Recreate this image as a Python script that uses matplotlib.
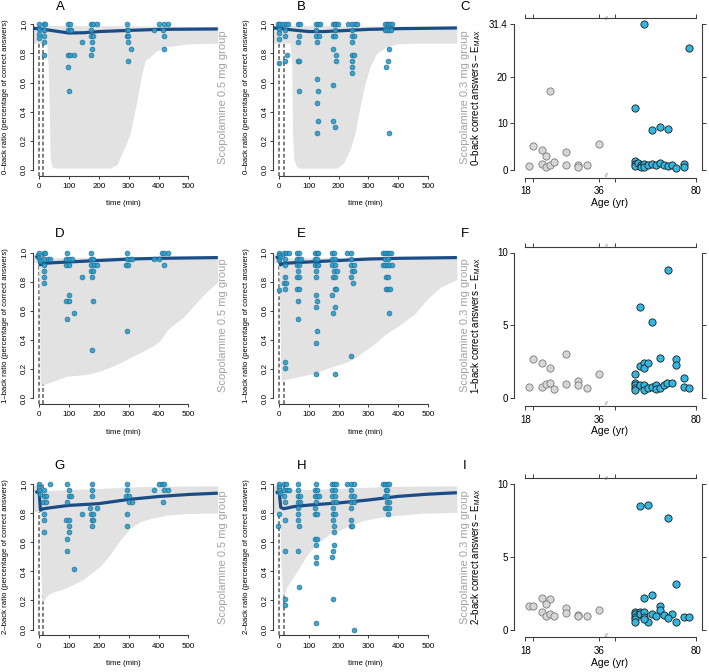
import numpy as np
import matplotlib
matplotlib.use('Agg')
import matplotlib.pyplot as plt

plt.rcParams['font.family'] = ['Liberation Sans', 'DejaVu Sans']
plt.rcParams['mathtext.fontset'] = 'custom'
plt.rcParams['mathtext.rm'] = 'Liberation Sans'

# ---------------- data: observed points (time in min, ratio correct) ----------------
a_t = [0, 0, 0, 0, 17, 20, 18, 17, 18, 18, 17,
       98, 104, 97, 104, 108, 97, 104, 97, 101, 117, 144,
       173, 180, 193, 175, 173, 180, 177, 176, 175,
       295, 293, 297, 293, 298, 297, 308, 298,
       386, 400, 417, 432, 415, 417, 417]
a_v = [1.0, 0.97, 0.93, 0.905, 1.0, 1.0, 0.958, 0.958, 0.917, 0.875, 0.792,
       1.0, 1.0, 0.958, 0.958, 0.958, 0.792, 0.792, 0.708, 0.542, 0.792, 0.875,
       1.0, 1.0, 1.0, 0.958, 0.917, 0.917, 0.875, 0.833, 0.792,
       1.0, 0.958, 0.958, 0.917, 0.917, 0.875, 0.833, 0.75,
       0.958, 1.0, 1.0, 1.0, 0.958, 0.917, 0.833]

b_t = [0, -3, 3, 0, 0, 0, 0,
       14, 22, 30, 18, 19, 25, 19,
       62, 70, 68, 62, 62, 68, 65,
       124, 130, 136, 124, 124, 133, 128, 128, 130, 126, 131, 126,
       181, 186, 192, 197, 186, 181, 188, 181, 190, 192, 181, 181, 188,
       232, 245, 255, 261, 245, 245, 250, 245, 245, 252, 245, 246, 245,
       357, 362, 367, 372, 378, 357, 363, 370, 377, 368, 366, 361, 371]
b_v = [1.0, 1.0, 1.0, 0.97, 0.94, 0.9, 0.735,
       1.0, 1.0, 1.0, 0.958, 0.917, 0.792, 0.75,
       1.0, 1.0, 0.917, 0.875, 0.75, 0.75, 0.542,
       1.0, 1.0, 1.0, 0.958, 0.917, 0.917, 0.875, 0.625, 0.542, 0.458, 0.333, 0.25,
       1.0, 1.0, 1.0, 1.0, 0.958, 0.917, 0.917, 0.833, 0.792, 0.75, 0.583, 0.333, 0.292,
       1.0, 1.0, 1.0, 1.0, 0.958, 0.917, 0.917, 0.875, 0.792, 0.792, 0.75, 0.708, 0.667,
       1.0, 1.0, 1.0, 1.0, 1.0, 0.958, 0.958, 0.958, 0.958, 0.833, 0.75, 0.708, 0.25]

d_t = [-3, 0, 0, 2,
       16, 19, 18, 18, 17, 18, 17, 29, 38,
       93, 91, 99, 110, 91, 99, 99, 91, 99, 93, 118, 145,
       174, 174, 181, 174, 183, 174, 181, 177, 181, 177, 194,
       294, 294, 305, 311, 292, 299, 296,
       386, 400, 411, 417, 431, 417]
d_v = [0.98, 1.0, 0.96, 0.94,
       1.0, 1.0, 0.958, 0.917, 0.875, 0.833, 0.792, 0.958, 0.958,
       1.0, 0.958, 0.958, 0.958, 0.917, 0.917, 0.708, 0.667, 0.667, 0.542, 0.583, 0.833,
       1.0, 0.958, 0.958, 0.917, 0.917, 0.875, 0.875, 0.833, 0.667, 0.333, 0.917,
       1.0, 0.958, 0.958, 0.958, 0.917, 0.917, 0.458,
       0.958, 0.958, 1.0, 1.0, 1.0, 0.917]

e_t = [0, -2, 2, 0, 0,
       17, 24, 32, 19, 19, 19, 17, 24, 19, 19, 19,
       61, 68, 61, 68, 74, 61, 68, 63, 61, 68, 61, 66, 63, 63,
       121, 126, 131, 121, 128, 121, 126, 131, 123, 123, 123, 126, 123, 126, 123, 123,
       177, 183, 179, 186, 179, 186, 183, 193, 181, 188, 186, 190, 179, 186, 181, 186,
       227, 243, 243, 243, 250, 245, 252, 243, 248, 243,
       350, 356, 362, 368, 375, 356, 365, 350, 356, 362, 370, 378, 360, 365, 358, 365, 372, 368]
e_v = [1.0, 0.98, 0.97, 0.95, 0.74,
       1.0, 1.0, 1.0, 0.958, 0.917, 0.833, 0.792, 0.792, 0.75, 0.25, 0.208,
       1.0, 1.0, 0.958, 0.958, 0.958, 0.917, 0.917, 0.875, 0.833, 0.833, 0.75, 0.75, 0.667, 0.542,
       1.0, 1.0, 1.0, 0.958, 0.958, 0.917, 0.917, 0.917, 0.875, 0.833, 0.708, 0.667, 0.625, 0.458, 0.375, 0.167,
       1.0, 1.0, 0.958, 0.958, 0.917, 0.917, 0.875, 0.875, 0.833, 0.833, 0.75, 0.75, 0.708, 0.625, 0.583, 0.167,
       1.0, 1.0, 0.958, 0.917, 0.917, 0.875, 0.875, 0.833, 0.792, 0.292,
       1.0, 1.0, 1.0, 1.0, 1.0, 0.958, 0.958, 0.917, 0.917, 0.917, 0.917, 0.917, 0.833, 0.833, 0.75, 0.75, 0.75, 0.583]

g_t = [0, 0, 0, 2,
       18, 18, 24, 13, 24, 18, 16, 16, 38,
       94, 99, 99, 107, 94, 92, 99, 99, 99, 94, 94, 116, 145,
       177, 177, 177, 171, 174, 180, 177, 180, 177, 194,
       294, 294, 292, 300, 300, 311, 296, 294,
       385, 400, 413, 417, 417, 431, 414]
g_v = [1.0, 0.98, 0.96, 0.93,
       0.958, 0.917, 0.917, 0.875, 0.875, 0.792, 0.75, 0.667, 1.0,
       1.0, 0.958, 0.917, 0.917, 0.875, 0.75, 0.75, 0.708, 0.667, 0.625, 0.542, 0.417, 0.792,
       1.0, 0.958, 0.917, 0.833, 0.792, 0.792, 0.75, 0.75, 0.708, 0.833,
       1.0, 0.958, 0.917, 0.917, 0.875, 0.875, 0.792, 0.708,
       0.958, 1.0, 1.0, 1.0, 0.958, 0.958, 0.875]

h_t = [0, 0, 0, 2, 0, -3,
       17, 22, 17, 25, 32, 17, 19, 19, 19, 19, 19,
       63, 63, 63, 70, 63, 70, 63, 63, 63, 66, 63, 65,
       125, 122, 128, 122, 128, 133, 125, 122, 122, 128, 122, 128, 125, 125, 123, 125,
       178, 184, 190, 178, 186, 178, 186, 181, 190, 181, 181, 186, 181, 184, 184, 184, 181, 179, 181,
       228, 240, 252, 243, 240, 250, 243, 252, 240, 240, 240, 246, 250,
       350, 356, 362, 368, 358, 364, 356, 362, 362, 370, 356, 364, 370, 365]
h_v = [1.0, 0.98, 0.96, 0.94, 0.792, 0.708,
       1.0, 1.0, 0.958, 0.958, 0.958, 0.917, 0.875, 0.75, 0.542, 0.208, 0.167,
       1.0, 0.958, 0.917, 0.917, 0.875, 0.875, 0.833, 0.792, 0.75, 0.708, 0.542, 0.292,
       1.0, 0.958, 0.958, 0.917, 0.917, 0.917, 0.875, 0.833, 0.792, 0.792, 0.625, 0.625, 0.583, 0.5, 0.458, 0.042,
       1.0, 1.0, 1.0, 0.958, 0.958, 0.917, 0.917, 0.875, 0.875, 0.833, 0.792, 0.792, 0.75, 0.708, 0.667, 0.583, 0.542, 0.5, 0.208,
       1.0, 1.0, 1.0, 0.958, 0.917, 0.917, 0.875, 0.875, 0.833, 0.75, 0.708, 0.708, 0.0,
       1.0, 1.0, 1.0, 1.0, 0.958, 0.958, 0.917, 0.917, 0.875, 0.875, 0.833, 0.833, 0.833, 0.792]

# ---------------- data: prediction bands ----------------
a_bt = [-20, 26, 31, 35, 37, 43, 54, 238, 261, 272, 290, 305, 328, 344, 356, 367, 395, 428, 495, 598]
a_lo = [0.87, 0.87, 0.70, 0.36, 0.09, 0.022, 0.012, 0.012, 0.035, 0.09, 0.17, 0.25, 0.48, 0.66,
        0.755, 0.77, 0.82, 0.845, 0.865, 0.87]
a_hi = [0.993, 0.993, 0.993, 0.993, 0.993, 0.992, 0.992, 0.99, 0.99, 0.99, 0.99, 0.989, 0.989, 0.988,
        0.988, 0.988, 0.987, 0.986, 0.985, 0.985]

b_bt = [-20, 36, 42, 45, 49, 58, 70, 193, 216, 238, 255, 272, 289, 306, 328, 362, 396, 452, 598]
b_lo = [0.87, 0.87, 0.71, 0.25, 0.07, 0.023, 0.011, 0.011, 0.046, 0.137, 0.25, 0.435, 0.595, 0.71,
        0.80, 0.847, 0.865, 0.87, 0.87]
b_hi = [0.992, 0.992, 0.992, 0.992, 0.992, 0.992, 0.991, 0.99, 0.99, 0.99, 0.99, 0.99, 0.989, 0.989,
        0.988, 0.988, 0.988, 0.987, 0.987]

d_bt = [-20, -2, 2, 4, 16, 38, 94, 160, 205, 261, 316, 350, 383, 405, 428, 439, 483, 539, 561, 598]
d_lo = [0.93, 0.93, 0.6, 0.097, 0.093, 0.109, 0.15, 0.162, 0.185, 0.231, 0.289, 0.324, 0.359, 0.394,
        0.463, 0.486, 0.556, 0.683, 0.729, 0.80]
d_hi = [0.98, 1.0, 1.0, 0.965, 0.965, 0.965, 0.965, 0.966, 0.967, 0.968, 0.969, 0.97, 0.97, 0.97,
        0.971, 0.971, 0.971, 0.972, 0.972, 0.972]

e_bt = [-20, -2, 2, 6, 58, 113, 168, 223, 257, 279, 312, 345, 367, 411, 456, 500, 544, 598]
e_lo = [0.93, 0.93, 0.6, 0.12, 0.144, 0.167, 0.208, 0.243, 0.278, 0.313, 0.359, 0.417, 0.451, 0.509,
        0.579, 0.683, 0.764, 0.815]
e_hi = [0.98, 1.0, 1.0, 0.965, 0.965, 0.965, 0.966, 0.967, 0.968, 0.969, 0.97, 0.97, 0.97, 0.971,
        0.971, 0.972, 0.972, 0.972]

g_bt = [-20, 2, 6, 10, 27, 38, 94, 149, 205, 238, 272, 305, 338, 372, 428, 494, 598]
g_lo = [0.81, 0.81, 0.4, 0.187, 0.232, 0.25, 0.289, 0.345, 0.436, 0.515, 0.616, 0.695, 0.74, 0.763,
        0.786, 0.797, 0.801]
g_hi = [0.99, 1.0, 0.955, 0.955, 0.956, 0.957, 0.96, 0.964, 0.97, 0.973, 0.976, 0.98, 0.982, 0.984,
        0.985, 0.986, 0.987]

h_bt = [-20, 2, 6, 13, 25, 58, 92, 125, 170, 226, 282, 338, 394, 483, 598]
h_lo = [0.80, 0.80, 0.4, 0.222, 0.29, 0.394, 0.508, 0.588, 0.657, 0.703, 0.748, 0.771, 0.783, 0.799, 0.805]
h_hi = [0.99, 1.0, 0.96, 0.96, 0.96, 0.961, 0.962, 0.964, 0.968, 0.972, 0.977, 0.981, 0.984, 0.986, 0.987]

# ---------------- data: median predictions ----------------
ab_mt = [-20, 0, 50, 100, 150, 200, 300, 400, 598]
a_med = [0.972, 0.97, 0.955, 0.94, 0.942, 0.95, 0.958, 0.965, 0.968]
b_med = [0.975, 0.972, 0.96, 0.95, 0.95, 0.955, 0.965, 0.97, 0.975]
de_mt = [-12, 0, 4, 15, 50, 100, 200, 300, 400, 598]
d_med = [0.965, 0.975, 0.915, 0.925, 0.93, 0.935, 0.945, 0.955, 0.96, 0.965]
e_med = [0.965, 0.97, 0.915, 0.925, 0.93, 0.935, 0.945, 0.955, 0.96, 0.965]
gh_mt = [-12, 0, 5, 15, 50, 100, 200, 300, 400, 500, 598]
g_med = [0.94, 0.955, 0.82, 0.83, 0.84, 0.853, 0.865, 0.894, 0.914, 0.928, 0.937]
h_med = [0.94, 0.945, 0.84, 0.83, 0.845, 0.855, 0.87, 0.89, 0.915, 0.93, 0.94]

# ---------------- data: E_MAX vs age ----------------
c_young_age = [19.0, 20.0, 22.0, 23.1, 22.0, 23.1, 24.1, 25.1, 24.1, 28.1, 28.1, 31.0, 31.0, 33.1, 36.0]
c_young_val = [0.72, 5.05, 4.33, 3.03, 1.30, 0.5, 1.08, 1.59, 17.1, 3.83, 1.08, 1.08, 0.5, 0.94, 5.56]
c_old_age = [67.05, 64.9, 78.2, 69.0, 71.1, 73.0, 64.9, 64.9, 64.9, 65.7, 66.4, 66.4,
             67.1, 67.2, 68.0, 69.0, 70.1, 71.1, 72.1, 73.0, 74.0, 75.0, 77.0, 77.0]
c_old_val = [31.4, 13.36, 26.2, 8.52, 9.17, 8.88, 1.95, 1.3, 0.72, 1.44, 0.94, 0.5,
             1.3, 0.5, 1.08, 1.3, 0.94, 1.44, 1.08, 0.72, 0.94, 0.36, 1.3, 0.5]

f_young_age = [19.0, 20.0, 22.0, 24.1, 22.0, 23.1, 24.1, 25.1, 28.1, 28.1, 31.0, 31.0, 33.1, 36.0]
f_young_val = [0.76, 2.66, 2.38, 2.08, 0.76, 0.97, 1.04, 0.62, 3.05, 0.97, 1.15, 0.92, 0.69, 1.62]
f_old_age = [73.1, 66.1, 69.0, 71.1, 66.1, 67.1, 67.1, 68.0, 75.0, 75.0, 77.0, 64.9,
             64.9, 64.9, 64.9, 64.9, 66.1, 67.1, 67.1, 68.0, 69.0, 70.1, 70.1, 71.1, 72.1, 72.9, 74.0, 77.0, 78.2]
f_old_val = [8.82, 6.28, 5.24, 2.77, 2.19, 2.42, 2.08, 2.42, 2.66, 2.26, 1.39, 1.66,
             1.04, 0.88, 0.69, 0.58, 0.92, 0.92, 0.58, 0.69, 0.76, 0.92, 0.62, 0.69, 0.92, 1.04, 1.04, 0.76, 0.69]

i_young_age = [19.0, 20.0, 22.0, 24.1, 23.1, 22.0, 23.1, 24.1, 25.1, 28.1, 28.1, 31.0, 31.0, 33.1, 36.0]
i_young_val = [1.62, 1.62, 2.18, 2.08, 1.74, 1.2, 0.93, 1.09, 0.93, 1.48, 1.16, 0.97, 0.93, 0.9, 1.32]
i_old_age = [66.1, 68.0, 73.0, 75.0, 69.0, 67.1, 71.1, 71.1, 69.0, 72.1, 74.0, 73.0, 75.0, 77.0, 78.2, 70.1, 68.0,
             64.9, 64.9, 64.9, 64.9, 64.9, 66.1, 66.1, 67.1, 67.1, 67.1]
i_old_val = [8.5, 8.59, 7.64, 3.13, 2.36, 2.18, 1.62, 1.32, 1.04, 0.97, 1.09, 0.79, 0.51, 0.86, 0.86, 0.9, 0.51,
             1.2, 1.04, 0.86, 0.69, 0.51, 1.2, 1.04, 1.2, 0.86, 0.69]

time_ticks = [0, 100, 200, 300, 400, 500]
ratio_ticks = [0.0, 0.2, 0.4, 0.6, 0.8, 1.0]
age_ticks = [18, 20, 36, 60, 80]
age_labels = ['18', '', '36', '', '80']

# ---------------- layout (pixels) ----------------
W, H = 709, 672
fig = plt.figure(figsize=(W / 100, H / 100), dpi=100)

row_top = [24.3, 252.5, 484.0]   # pixel row of the top data value
unit = 145.5                     # pixels from 0 to top value
cols = [(33.0, 217.8), (273.3, 456.9), (514.3, 701.7)]
axis_col = '#3c3c3c'


def rect(l, t, r, b):
    return [l / W, 1 - b / H, (r - l) / W, (b - t) / H]


def make_ax(row, col):
    l, r = cols[col]
    top = row_top[row] - 0.04 * unit
    bot = row_top[row] + 1.04 * unit
    return fig.add_axes(rect(l, top, r, bot))


def ftext(x, y, s, **kw):
    fig.text(x / W, 1 - y / H, s, **kw)


def time_panel(row, col, pt, pv, bt, lo, hi, mt, mv):
    ax = make_ax(row, col)
    ax.vlines([0, 15], -0.04, 1.0, colors='#5a5a5a', linestyles=(0, (2.5, 1.5)), lw=1.1, zorder=1)
    ax.fill_between(bt, lo, hi, color='#e2e2e2', lw=0, zorder=2)
    ax.plot(mt, mv, color='#1c4c86', lw=2.3, zorder=3, solid_capstyle='butt')
    ax.scatter(pt, pv, s=12, c='#2b9dca', edgecolors='#1b6c93', linewidths=0.5, alpha=0.9, zorder=4)
    ax.set_xlim(-20, 598)
    ax.set_ylim(-0.04, 1.04)
    for s in ['top', 'right']:
        ax.spines[s].set_visible(False)
    for s in ['left', 'bottom']:
        ax.spines[s].set_color(axis_col)
        ax.spines[s].set_linewidth(0.8)
    ax.spines['left'].set_bounds(0, 1)
    ax.spines['bottom'].set_bounds(0, 500)
    ax.set_xticks(time_ticks)
    ax.set_xticklabels([str(t) for t in time_ticks])
    ax.set_yticks(ratio_ticks)
    ax.set_yticklabels(['%.1f' % v for v in ratio_ticks], rotation=90, va='center')
    ax.tick_params(length=2.3, width=0.7, color=axis_col, labelsize=5.8, pad=1.2)
    ax.tick_params(axis='x', pad=3)
    ax.patch.set_visible(False)
    return ax


def fwd(a):
    a = np.asarray(a, dtype=float)
    return np.where(a <= 37, a, np.where(a >= 59, a - 20, 37 + (a - 37) / 11))


def inv(f):
    f = np.asarray(f, dtype=float)
    return np.where(f <= 37, f, np.where(f >= 39, f + 20, 37 + (f - 37) * 11))


def age_panel(row, ya, yv, oa, ov, ymax, yticks, ylabels):
    ax = make_ax(row, 2)
    ax.set_xscale('function', functions=(fwd, inv))
    ax.scatter(ya, yv, s=27, c='#d6d6d6', edgecolors='#7a7a7a', linewidths=0.6, zorder=3)
    ax.scatter(oa, ov, s=27, c='#35b6de', edgecolors='#1a1a1a', linewidths=0.6, zorder=4)
    ax.set_xlim(15.3, 81.3)
    ax.set_ylim(-0.04 * ymax, 1.04 * ymax)
    for s in ax.spines.values():
        s.set_color(axis_col)
        s.set_linewidth(0.8)
    ax.spines['left'].set_bounds(0, ymax)
    ax.spines['right'].set_bounds(0, ymax)
    ax.spines['top'].set_bounds(18, 80)
    ax.spines['bottom'].set_bounds(18, 80)
    ax.spines['bottom'].set_position(('outward', 1.5))
    ax.set_xticks(age_ticks)
    ax.set_xticklabels(age_labels)
    ax.set_yticks(yticks)
    ax.set_yticklabels(ylabels)
    ax.tick_params(top=True, right=True, labeltop=False, labelright=False, direction='out',
                   length=2.8, width=0.7, color=axis_col, labelsize=7, pad=2)
    ax.tick_params(axis='x', pad=3.5)
    for yy in (0, 1):
        ax.text(48, yy, '//', transform=ax.get_xaxis_transform(), ha='center', va='center',
                fontsize=3.5, color='#555555', zorder=6, clip_on=False)
    ax.patch.set_visible(False)
    return ax


time_panel(0, 0, a_t, a_v, a_bt, a_lo, a_hi, ab_mt, a_med)
time_panel(0, 1, b_t, b_v, b_bt, b_lo, b_hi, ab_mt, b_med)
time_panel(1, 0, d_t, d_v, d_bt, d_lo, d_hi, de_mt, d_med)
time_panel(1, 1, e_t, e_v, e_bt, e_lo, e_hi, de_mt, e_med)
time_panel(2, 0, g_t, g_v, g_bt, g_lo, g_hi, gh_mt, g_med)
time_panel(2, 1, h_t, h_v, h_bt, h_lo, h_hi, gh_mt, h_med)

age_panel(0, c_young_age, c_young_val, c_old_age, c_old_val, 31.4, [0, 10, 20, 31.4], ['0', '10', '20', '31.4'])
age_panel(1, f_young_age, f_young_val, f_old_age, f_old_val, 10, [0, 5, 10], ['0', '5', '10'])
age_panel(2, i_young_age, i_young_val, i_old_age, i_old_val, 10, [0, 5, 10], ['0', '5', '10'])

# ---------------- labels ----------------
tasks = ['0', '1', '2']
letters = [['A', 'B', 'C'], ['D', 'E', 'F'], ['G', 'H', 'I']]
letter_x = [60, 301.7, 465]
letter_y = [7, 234, 466]
for r in range(3):
    yc = row_top[r] + 0.5 * unit
    y0 = row_top[r] + unit
    for c in range(3):
        ftext(letter_x[c], letter_y[r], letters[r][c], ha='center', va='center', fontsize=9.5)
    ftext(6, yc, tasks[r] + '\u2013back ratio (percentage of correct answers)',
          rotation=90, ha='center', va='center', fontsize=5.6)
    ftext(246, yc, tasks[r] + '\u2013back ratio (percentage of correct answers)',
          rotation=90, ha='center', va='center', fontsize=5.6)
    ftext(223, yc, 'Scopolamine 0.5 mg group', rotation=90, ha='center', va='center',
          fontsize=8, color='#a3a3a3')
    ftext(465, yc, 'Scopolamine 0.3 mg group', rotation=90, ha='center', va='center',
          fontsize=8, color='#a3a3a3')
    ftext(476, yc, tasks[r] + '\u2013back correct answers \u2013 E$_{\\mathrm{MAX}}$',
          rotation=90, ha='center', va='center', fontsize=7)
    ftext(123, y0 + 34, 'time (min)', ha='center', va='center', fontsize=5.6)
    ftext(365, y0 + 34, 'time (min)', ha='center', va='center', fontsize=5.6)
    ftext(610, y0 + 33, 'Age (yr)', ha='center', va='center', fontsize=7.5)

fig.savefig('out.png', dpi=100)
